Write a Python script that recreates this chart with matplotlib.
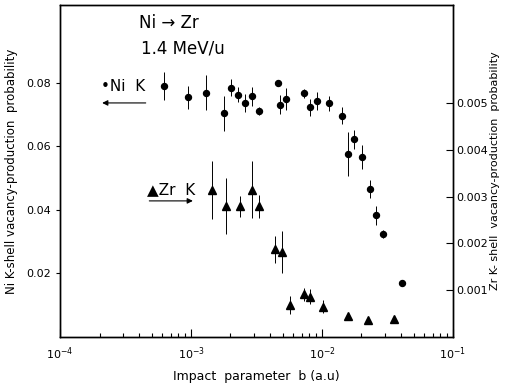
import numpy as np
import matplotlib
matplotlib.use("Agg")
import matplotlib.pyplot as plt
from matplotlib.ticker import LogLocator, NullFormatter

# Ni K-shell (left axis)
ni_b = [6.2e-4, 9.4e-4, 1.29e-3, 1.77e-3, 2.03e-3, 2.27e-3, 2.6e-3, 2.94e-3,
        3.32e-3, 4.59e-3, 4.81e-3, 5.35e-3, 7.3e-3, 8.15e-3, 9.17e-3, 1.14e-2,
        1.41e-2, 1.57e-2, 1.75e-2, 2.03e-2, 2.31e-2, 2.6e-2, 2.94e-2, 4.1e-2]
ni_p = [0.0790, 0.0755, 0.0769, 0.0704, 0.0785, 0.0763, 0.0736, 0.0757,
        0.0711, 0.0800, 0.0731, 0.0749, 0.0767, 0.0723, 0.0742, 0.0736,
        0.0697, 0.0575, 0.0622, 0.0566, 0.0465, 0.0383, 0.0324, 0.0171]
ni_err = [0.0044, 0.0036, 0.0055, 0.0055, 0.0028, 0.0024, 0.0029, 0.0030,
          0.0013, 0.0010, 0.0030, 0.0034, 0.0015, 0.0026, 0.0029, 0.0024,
          0.0026, 0.0069, 0.0029, 0.0037, 0.0029, 0.0029, 0.0013, 0.0]

# Zr K-shell (right axis)
zr_b = [1.445e-3, 1.85e-3, 2.37e-3, 2.94e-3, 3.3e-3, 4.41e-3, 4.92e-3,
        5.7e-3, 7.3e-3, 8.1e-3, 1.02e-2, 1.59e-2, 2.26e-2, 3.52e-2]
zr_p = [0.00314, 0.00279, 0.00279, 0.00315, 0.00279, 0.00187, 0.00181,
        0.000686, 0.000914, 0.000857, 0.000643, 0.00045, 0.00037, 0.00039]
zr_err = [0.00062, 0.0006, 0.00023, 0.0006, 0.00025, 0.00028, 0.00045,
          0.0002, 0.00014, 0.00016, 0.00014, 0.00005, 0.00005, 0.00004]

fig = plt.figure(figsize=(5.05, 3.83), dpi=100)
ax = fig.add_axes([0.119, 0.120, 0.778, 0.867])
ax2 = ax.twinx()

ax.errorbar(ni_b, ni_p, yerr=ni_err, fmt="o", color="black", ms=4.3,
            elinewidth=0.7, capsize=0)
ax2.errorbar(zr_b, zr_p, yerr=zr_err, fmt="^", color="black", ms=5.2,
             elinewidth=0.7, capsize=0)

ax.set_xscale("log")
ax.set_xlim(1e-4, 1e-1)
ax.set_ylim(0, 0.1045)
ax2.set_ylim(0, 0.00709)

ax.set_yticks([0.02, 0.04, 0.06, 0.08])
ax.set_yticklabels(["0.02", "0.04", "0.06", "0.08"])
ax2.set_yticks([0.001, 0.002, 0.003, 0.004, 0.005])
ax2.set_yticklabels(["0.001", "0.002", "0.003", "0.004", "0.005"])

ax.xaxis.set_major_locator(LogLocator(base=10, numticks=10))
ax.xaxis.set_minor_locator(LogLocator(base=10, subs=np.arange(2, 10), numticks=10))
ax.xaxis.set_minor_formatter(NullFormatter())

ax.tick_params(axis="x", which="major", direction="in", length=6, width=0.8,
               labelsize=8, pad=6)
ax.tick_params(axis="x", which="minor", direction="in", length=3, width=0.8)
ax.tick_params(axis="y", direction="out", length=3, width=0.8, labelsize=8,
               right=False)
ax2.tick_params(axis="y", direction="in", length=5, width=0.8, labelsize=8,
                pad=2)

for a in (ax, ax2):
    for s in a.spines.values():
        s.set_linewidth(1.0)

ax.set_xlabel("Impact  parameter  b (a.u)", fontsize=9, labelpad=6)
ax.set_ylabel("Ni K-shell vacancy-production  probability", fontsize=8.5,
              labelpad=6)
ax2.set_ylabel("Zr K- shell  vacancy-production  probability", fontsize=8,
               labelpad=2)

ax.text(0.20, 0.945, "Ni \u2192 Zr", transform=ax.transAxes, fontsize=12,
        ha="left", va="center")
ax.text(0.205, 0.87, "1.4 MeV/u", transform=ax.transAxes, fontsize=12,
        ha="left", va="center")

ax.text(0.105, 0.755, "\u2022Ni  K", transform=ax.transAxes, fontsize=11,
        ha="left", va="center")
ax.annotate("", xy=(0.10, 0.705), xytext=(0.225, 0.705),
            xycoords="axes fraction",
            arrowprops=dict(arrowstyle="-|>", lw=0.8, color="black",
                            mutation_scale=8))
ax.text(0.22, 0.445, "\u25b2Zr  K", transform=ax.transAxes, fontsize=11,
        ha="left", va="center")
ax.annotate("", xy=(0.345, 0.41), xytext=(0.22, 0.41),
            xycoords="axes fraction",
            arrowprops=dict(arrowstyle="-|>", lw=0.8, color="black",
                            mutation_scale=8))

fig.savefig("out.png", dpi=100)
